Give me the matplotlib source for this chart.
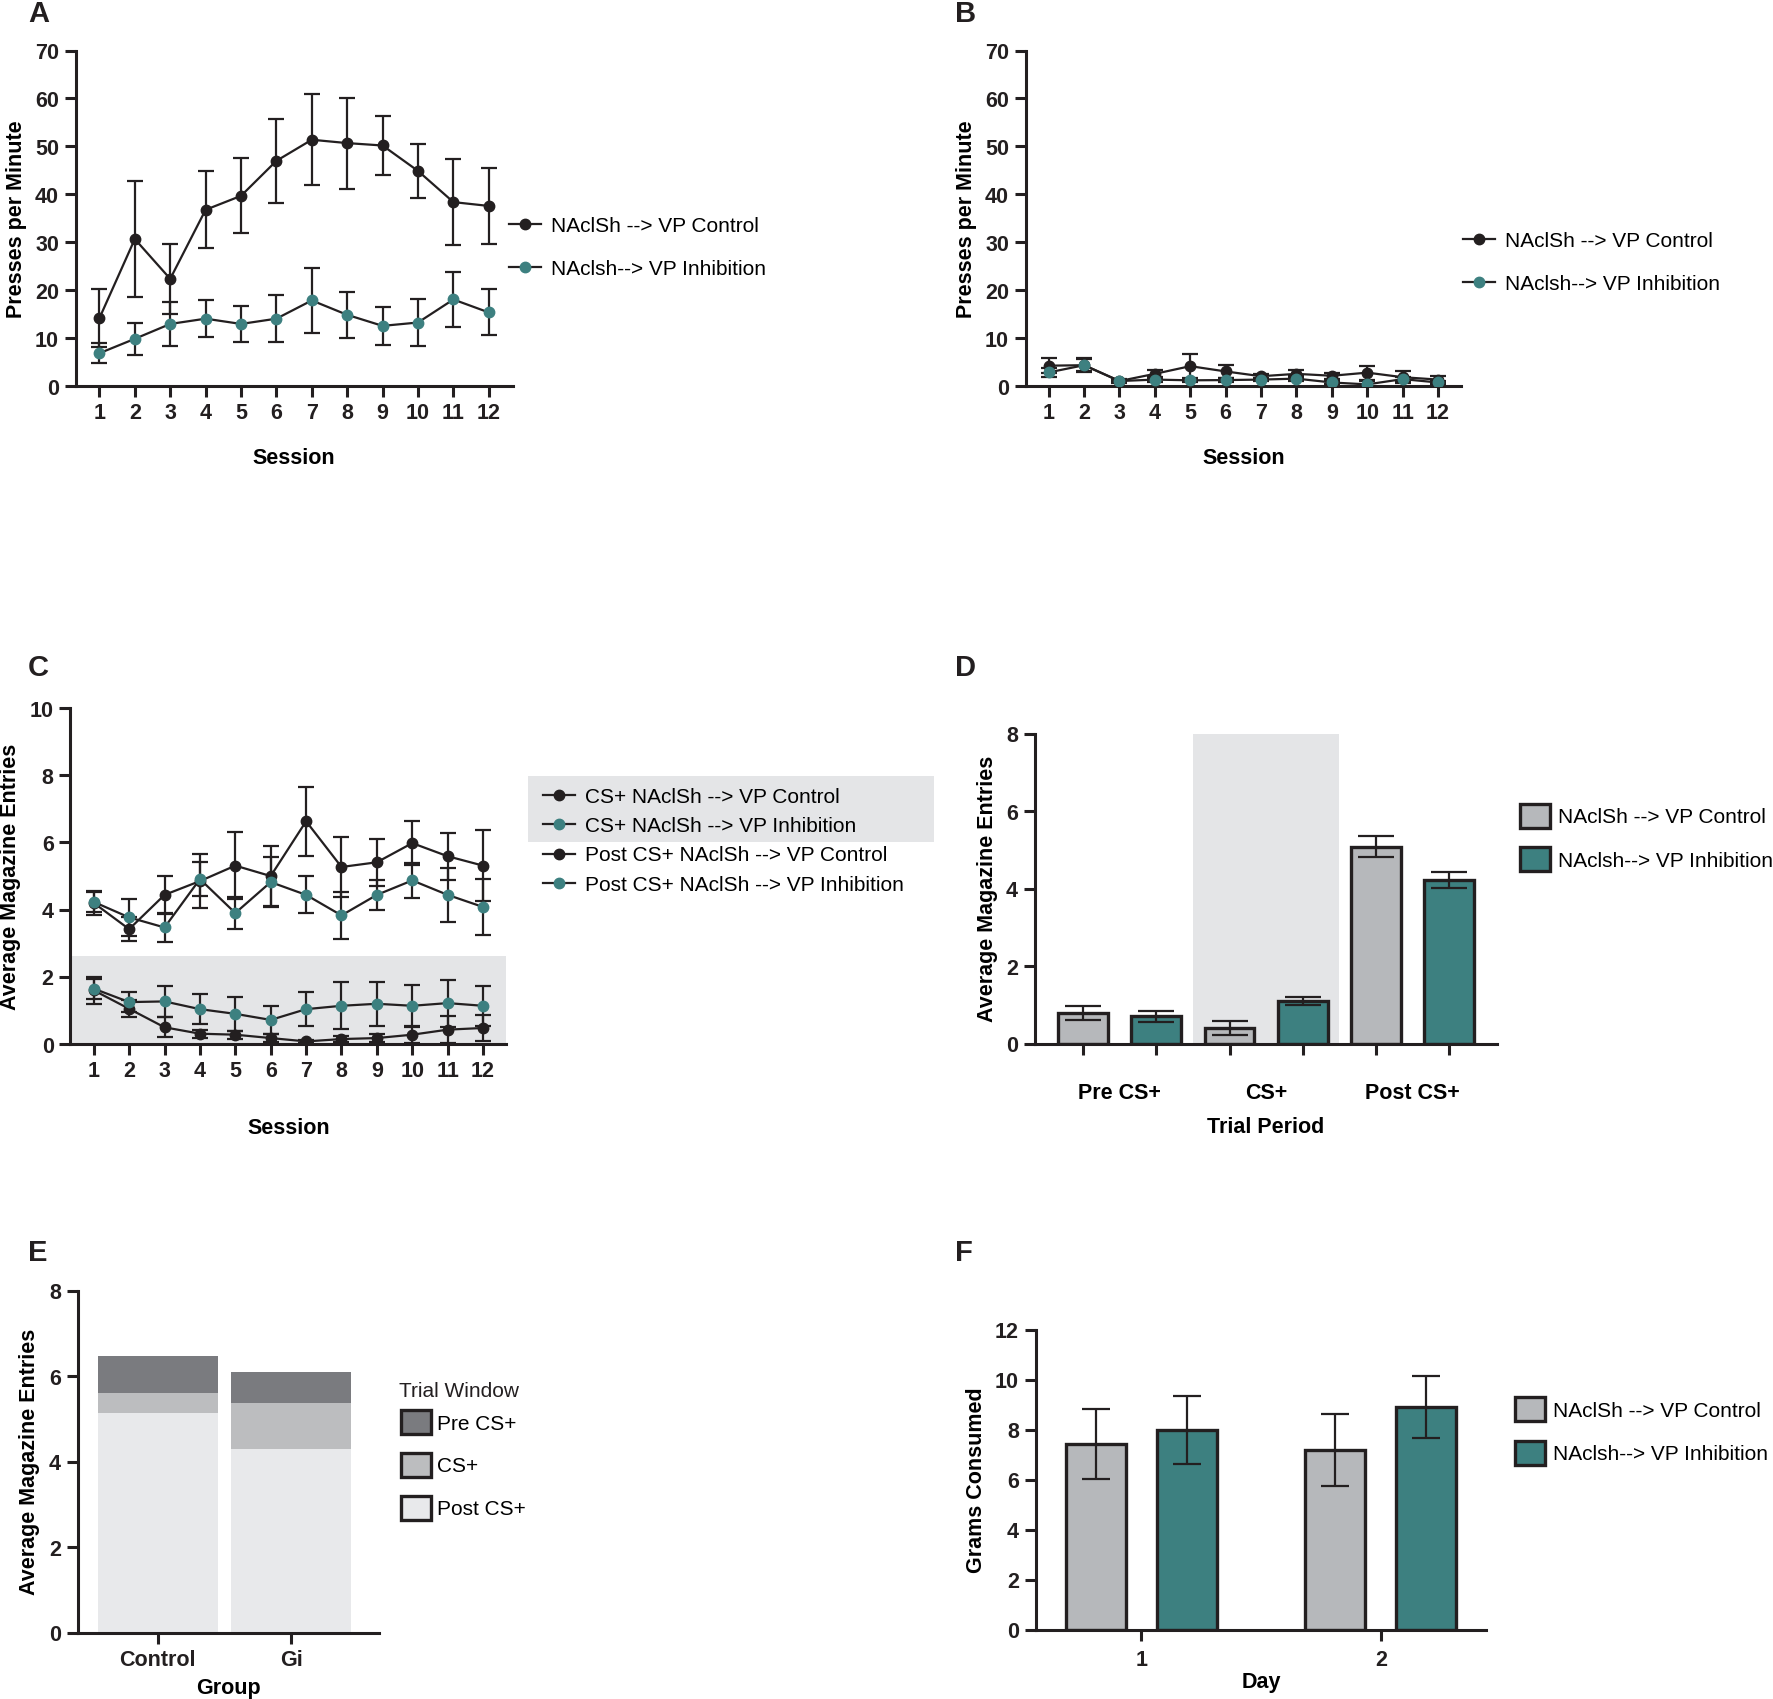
import matplotlib
matplotlib.use("Agg")
import matplotlib.pyplot as plt
from matplotlib.patches import Patch, Rectangle
import numpy as np

plt.rcParams['font.family'] = ['Liberation Sans', 'DejaVu Sans']
plt.rcParams['font.weight'] = 'bold'
plt.rcParams['axes.labelweight'] = 'bold'

# ---- data ----
sessions = list(range(1, 13))

a_ctrl = [14.2, 30.7, 22.4, 36.8, 39.7, 47.0, 51.4, 50.7, 50.2, 44.9, 38.4, 37.6]
a_ctrl_sem = [6.0, 12.0, 7.3, 8.0, 7.8, 8.7, 9.5, 9.5, 6.2, 5.6, 9.0, 8.0]
a_inh = [6.9, 9.9, 13.0, 14.1, 13.0, 14.1, 17.9, 14.9, 12.6, 13.3, 18.1, 15.4]
a_inh_sem = [2.1, 3.4, 4.5, 3.9, 3.7, 4.9, 6.7, 4.8, 3.9, 4.9, 5.8, 4.8]

b_ctrl = [4.3, 4.4, 1.1, 2.6, 4.2, 3.1, 2.1, 2.6, 2.2, 2.85, 1.9, 1.4]
b_ctrl_sem = [1.6, 1.4, 0.4, 0.9, 2.6, 1.3, 0.5, 0.9, 0.6, 1.45, 1.2, 0.8]
b_inh = [2.9, 4.4, 1.1, 1.4, 1.25, 1.3, 1.4, 1.6, 0.8, 0.4, 1.5, 0.8]
b_inh_sem = [0.9, 1.3, 0.3, 0.5, 0.4, 0.4, 0.3, 0.5, 0.3, 0.8, 0.5, 0.4]

c_cs_ctrl = [1.6, 1.05, 0.5, 0.31, 0.28, 0.18, 0.08, 0.15, 0.18, 0.28, 0.43, 0.48]
c_cs_ctrl_sem = [0.4, 0.25, 0.3, 0.12, 0.12, 0.12, 0.05, 0.1, 0.12, 0.25, 0.4, 0.4]
c_cs_inh = [1.65, 1.25, 1.27, 1.04, 0.9, 0.72, 1.04, 1.14, 1.2, 1.14, 1.22, 1.14]
c_cs_inh_sem = [0.3, 0.3, 0.47, 0.45, 0.5, 0.42, 0.5, 0.7, 0.65, 0.63, 0.7, 0.6]
c_post_ctrl = [4.2, 3.42, 4.44, 4.85, 5.31, 5.0, 6.63, 5.27, 5.41, 5.98, 5.59, 5.31]
c_post_ctrl_sem = [0.35, 0.35, 0.57, 0.8, 1.0, 0.9, 1.03, 0.88, 0.7, 0.65, 0.7, 1.05]
c_post_inh = [4.23, 3.77, 3.47, 4.91, 3.9, 4.82, 4.44, 3.83, 4.44, 4.87, 4.44, 4.08]
c_post_inh_sem = [0.3, 0.55, 0.43, 0.5, 0.47, 0.75, 0.55, 0.7, 0.45, 0.53, 0.8, 0.82]

periods = ['Pre CS+', 'CS+', 'Post CS+']
d_ctrl = [0.79, 0.42, 5.09]
d_ctrl_sem = [0.18, 0.18, 0.28]
d_inh = [0.705, 1.11, 4.23]
d_inh_sem = [0.13, 0.11, 0.2]

groups = ['Control', 'Gi']
windows = ['Pre CS+', 'CS+', 'Post CS+']
e_post = [5.14, 4.31]
e_cs = [0.47, 1.06]
e_pre = [0.86, 0.72]

days = [1, 2]
f_ctrl = [7.43, 7.2]
f_ctrl_sem = [1.41, 1.45]
f_inh = [7.99, 8.92]
f_inh_sem = [1.36, 1.25]

lbl_ctrl = 'NAclSh --> VP Control'
lbl_inh = 'NAclsh--> VP Inhibition'

# ---- style ----
DARK = '#231f20'
TEAL = '#3d8080'
GREY = '#b6b8bb'
SHADE = '#e4e5e7'
LW = 1.6
TICK_FS = 15.5
LABEL_FS = 15.5
LEG_FS = 15

fig = plt.figure(figsize=(17.73, 16.995), dpi=100)
W, H = 1773, 1699


def add_ax(x0, x1, ytop, ybot):
    return fig.add_axes([x0 / W, 1 - ybot / H, (x1 - x0) / W, (ybot - ytop) / H])


def style(ax):
    for s in ['top', 'right']:
        ax.spines[s].set_visible(False)
    for s in ['left', 'bottom']:
        ax.spines[s].set_linewidth(2.2)
        ax.spines[s].set_color(DARK)
    ax.tick_params(width=2.2, length=8, labelsize=TICK_FS, colors=DARK, pad=4)


def line_series(ax, x, y, e, face):
    ax.errorbar(x, y, yerr=e, fmt='none', ecolor=DARK, elinewidth=LW,
                capsize=6, capthick=LW, zorder=3)
    h, = ax.plot(x, y, '-o', color=DARK, lw=LW, ms=7.5, mfc=face, mec=face, zorder=4)
    return h


def letter(x, y, t):
    fig.text(x / W, 1 - y / H, t, fontsize=21, fontweight='bold', color=DARK, va='center')


leg_kw = dict(bbox_transform=fig.transFigure, frameon=False,
              prop={'weight': 'normal', 'size': LEG_FS}, borderpad=0)

# ---- A ----
axA = add_ax(75.7, 512.5, 51, 386.7)
style(axA)
hA1 = line_series(axA, sessions, a_ctrl, a_ctrl_sem, DARK)
hA2 = line_series(axA, sessions, a_inh, a_inh_sem, TEAL)
axA.set_xlim(0.33, 12.67)
axA.set_ylim(0, 70)
axA.set_yticks(range(0, 71, 10))
axA.set_xticks(sessions)
axA.set_ylabel('Presses per Minute', fontsize=LABEL_FS, labelpad=6)
axA.set_xlabel('Session', fontsize=LABEL_FS, labelpad=17)
axA.legend([hA1, hA2], [lbl_ctrl, lbl_inh], loc='center left',
           bbox_to_anchor=(499 / W, 1 - 248 / H),
           handlelength=1.5, handletextpad=0.5, labelspacing=1.15, **leg_kw)
letter(28, 14, 'A')

# ---- B ----
axB = add_ax(1025.7, 1461.4, 51, 386.7)
style(axB)
hB1 = line_series(axB, sessions, b_ctrl, b_ctrl_sem, DARK)
hB2 = line_series(axB, sessions, b_inh, b_inh_sem, TEAL)
axB.set_xlim(0.35, 12.66)
axB.set_ylim(0, 70)
axB.set_yticks(range(0, 71, 10))
axB.set_xticks(sessions)
axB.set_ylabel('Presses per Minute', fontsize=LABEL_FS, labelpad=6)
axB.set_xlabel('Session', fontsize=LABEL_FS, labelpad=17)
axB.legend([hB1, hB2], [lbl_ctrl, lbl_inh], loc='center left',
           bbox_to_anchor=(1453 / W, 1 - 263 / H),
           handlelength=1.5, handletextpad=0.5, labelspacing=1.15, **leg_kw)
letter(955, 14, 'B')

# ---- C ----
axC = add_ax(70.4, 506.4, 708.3, 1044.3)
style(axC)
axC.axhspan(0, 2.63, color=SHADE, zorder=0, lw=0)
hC1 = line_series(axC, sessions, c_cs_ctrl, c_cs_ctrl_sem, DARK)
hC2 = line_series(axC, sessions, c_cs_inh, c_cs_inh_sem, TEAL)
hC3 = line_series(axC, sessions, c_post_ctrl, c_post_ctrl_sem, DARK)
hC4 = line_series(axC, sessions, c_post_inh, c_post_inh_sem, TEAL)
axC.set_xlim(0.34, 12.66)
axC.set_ylim(0, 10)
axC.set_yticks(range(0, 11, 2))
axC.set_xticks(sessions)
axC.set_ylabel('Average Magazine Entries', fontsize=LABEL_FS, labelpad=6)
axC.set_xlabel('Session', fontsize=LABEL_FS, labelpad=26)
axC.legend([hC1, hC2, hC3, hC4],
           ['CS+ NAclSh --> VP Control', 'CS+ NAclSh --> VP Inhibition',
            'Post CS+ NAclSh --> VP Control', 'Post CS+ NAclSh --> VP Inhibition'],
           loc='center left', bbox_to_anchor=(533 / W, 1 - 841 / H),
           handlelength=1.5, handletextpad=0.5, labelspacing=0.49, **leg_kw)
fig.add_artist(Rectangle((528 / W, 1 - 842 / H), (934 - 528) / W, 66 / H,
                         transform=fig.transFigure, color=SHADE, lw=0, zorder=-1))
letter(28, 668, 'C')

# ---- D ----
axD = add_ax(1034.6, 1497, 734, 1044)
style(axD)
pos_c = np.arange(len(periods)) * 2
pos_i = pos_c + 1
axD.axvspan(1.5, 3.5, color=SHADE, zorder=0, lw=0)
bD1 = axD.bar(pos_c, d_ctrl, width=0.68, color=GREY, edgecolor=DARK, lw=2.4, zorder=2)
bD2 = axD.bar(pos_i, d_inh, width=0.68, color=TEAL, edgecolor=DARK, lw=2.4, zorder=2)
axD.errorbar(pos_c, d_ctrl, yerr=d_ctrl_sem, fmt='none', ecolor=DARK, elinewidth=LW,
             capsize=13, capthick=LW, zorder=3)
axD.errorbar(pos_i, d_inh, yerr=d_inh_sem, fmt='none', ecolor=DARK, elinewidth=LW,
             capsize=13, capthick=LW, zorder=3)
axD.set_xlim(-0.66, 5.65)
axD.set_ylim(0, 8)
axD.set_yticks(range(0, 9, 2))
axD.set_xticks(np.concatenate([pos_c, pos_i]))
axD.set_xticklabels([])
axD.set_xticks(pos_c + 0.5, periods, minor=True)
axD.tick_params(axis='x', which='minor', length=0, pad=28, labelsize=TICK_FS)
axD.set_ylabel('Average Magazine Entries', fontsize=LABEL_FS, labelpad=6)
axD.set_xlabel('Trial Period', fontsize=LABEL_FS, labelpad=9)
axD.legend([bD1, bD2], [lbl_ctrl, lbl_inh], loc='center left',
           bbox_to_anchor=(1510 / W, 1 - 838 / H),
           handlelength=1.4, handleheight=1.4, handletextpad=0.4, labelspacing=0.93,
           **leg_kw)
letter(955, 668, 'D')

# ---- E ----
axE = add_ax(77.5, 379.3, 1291, 1632.7)
style(axE)
xe = np.arange(len(groups))
e_colors = ['#7a7b7f', '#bcbdbf', '#e8e9eb']
axE.bar(xe, e_post, width=0.9, color=e_colors[2], lw=0, zorder=2)
axE.bar(xe, e_cs, width=0.9, bottom=e_post, color=e_colors[1], lw=0, zorder=2)
axE.bar(xe, e_pre, width=0.9, bottom=np.add(e_post, e_cs), color=e_colors[0], lw=0, zorder=2)
axE.set_xlim(-0.6, 1.66)
axE.set_ylim(0, 8)
axE.set_yticks(range(0, 9, 2))
axE.set_xticks(xe, groups)
axE.set_ylabel('Average Magazine Entries', fontsize=LABEL_FS, labelpad=6)
axE.set_xlabel('Group', fontsize=LABEL_FS, labelpad=5)
hE = [Patch(facecolor=c, edgecolor=DARK, lw=2.4) for c in e_colors]
axE.legend(hE, windows, loc='center left', bbox_to_anchor=(391 / W, 1 - 1465 / H),
           handlelength=1.4, handleheight=1.4, handletextpad=0.33,
           labelspacing=0.9, **leg_kw)
fig.text(399 / W, 1 - 1391 / H, 'Trial Window', fontsize=LEG_FS, fontweight='normal',
         color=DARK, va='center')
letter(28, 1253, 'E')

# ---- F ----
axF = add_ax(1035.7, 1486.4, 1330, 1630)
style(axF)
xf = np.array(days)
bF1 = axF.bar(xf - 0.19, f_ctrl, width=0.25, color=GREY, edgecolor=DARK, lw=2.4, zorder=2)
bF2 = axF.bar(xf + 0.19, f_inh, width=0.25, color=TEAL, edgecolor=DARK, lw=2.4, zorder=2)
axF.errorbar(xf - 0.19, f_ctrl, yerr=f_ctrl_sem, fmt='none', ecolor=DARK, elinewidth=LW,
             capsize=10, capthick=LW, zorder=3)
axF.errorbar(xf + 0.19, f_inh, yerr=f_inh_sem, fmt='none', ecolor=DARK, elinewidth=LW,
             capsize=10, capthick=LW, zorder=3)
axF.set_xlim(0.56, 2.44)
axF.set_ylim(0, 12)
axF.set_yticks(range(0, 13, 2))
axF.set_xticks(days)
axF.tick_params(axis='x', pad=6)
axF.set_ylabel('Grams Consumed', fontsize=LABEL_FS, labelpad=6)
axF.set_xlabel('Day', fontsize=LABEL_FS, labelpad=1)
axF.legend([bF1, bF2], [lbl_ctrl, lbl_inh], loc='center left',
           bbox_to_anchor=(1505 / W, 1 - 1431 / H),
           handlelength=1.4, handleheight=1.4, handletextpad=0.4, labelspacing=0.93,
           **leg_kw)
letter(955, 1253, 'F')

fig.savefig('out.png', dpi=100)
